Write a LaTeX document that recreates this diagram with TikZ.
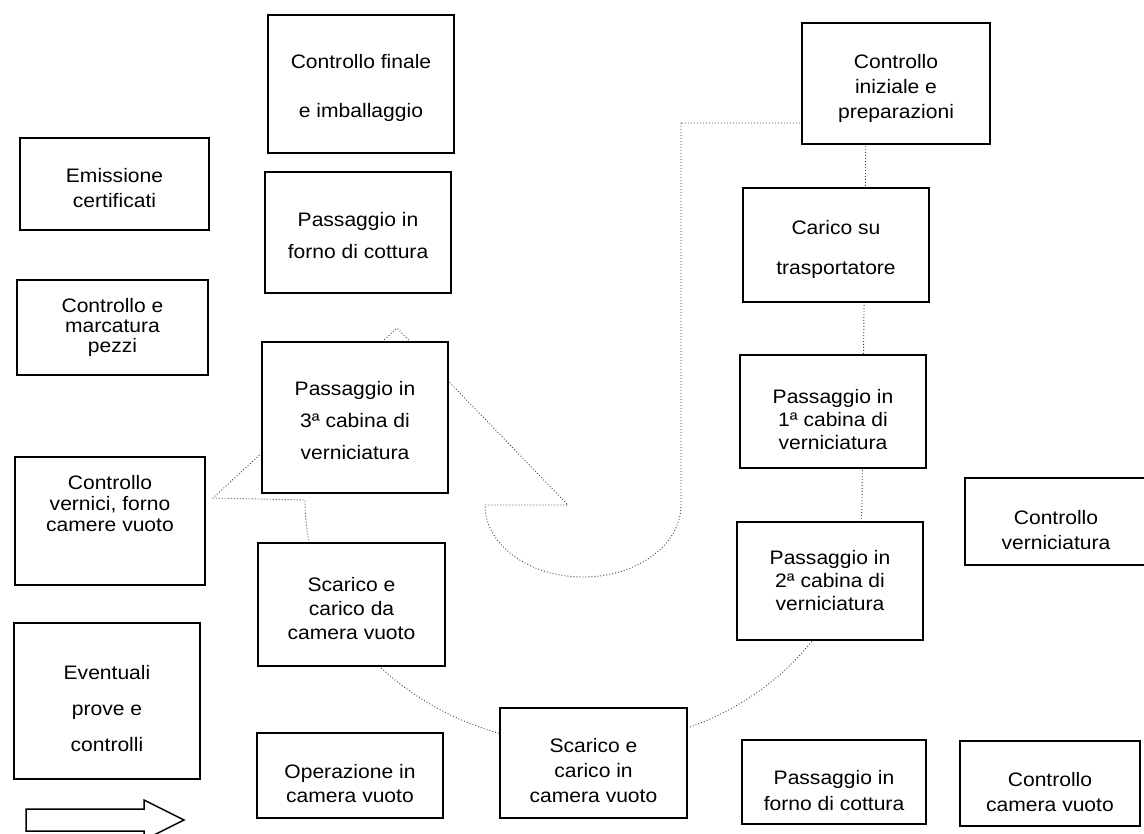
\documentclass[tikz,border=0pt]{standalone}
\usepackage{fontspec}
\setmainfont{Liberation Sans}[FakeStretch=1.08]
\newcommand\fs[1]{\fontsize{19.5}{#1}\selectfont}
\tikzset{
  bx/.style={draw, line width=1.8pt, fill=white, inner sep=0pt},
  txt/.style={align=center, inner sep=0pt},
  dotline/.style={draw=black!75, line width=0.9pt, dash pattern=on 0.9pt off 2.1pt},
}
\begin{document}
\begin{tikzpicture}[x=1pt,y=-1pt]
\clip (0,0) rectangle (1144,834);
\fill[white] (0,0) rectangle (1144,834);
% key points of the dotted circular arrow outline
\coordinate (innerTop) at (681,123);
\coordinate (innerR) at (681,505);
\coordinate (innerL) at (485,505);
\coordinate (barbR) at (568,505);
\coordinate (tip) at (397,328);
\coordinate (barbL) at (213,498);
\coordinate (outerL) at (305,500);
\coordinate (outerB) at (585,745);
\coordinate (outerR) at (862,500);
\coordinate (outerTop) at (866,123);
\draw[dotline] (innerTop) -- (innerR)
  .. controls (681,544.8) and (637.1,577) .. (583,577)
  .. controls (528.9,577) and (485,544.8) .. (innerL)
  -- (barbR) -- (tip) -- (barbL) -- (outerL)
  .. controls (305,635.3) and (430.4,745) .. (outerB)
  .. controls (739.6,745) and (862,635.3) .. (outerR)
  -- (outerTop) -- cycle;
% boxes
\node[bx, minimum width=186pt, minimum height=138pt] (cf) at (361,84) {};
\node[txt, font=\fs{49}] (cfT) at ([yshift=-4pt]cf.center) {Controllo finale\\e imballaggio};
\node[bx, minimum width=189pt, minimum height=92pt] (ec) at (114.5,184) {};
\node[txt, font=\fs{25}] (ecT) at ([yshift=-4pt]ec.center) {Emissione\\certificati};
\node[bx, minimum width=186pt, minimum height=121pt] (pf1) at (358,232.5) {};
\node[txt, font=\fs{32}] (pf1T) at ([yshift=-3pt]pf1.center) {Passaggio in\\forno di cottura};
\node[bx, minimum width=191pt, minimum height=95pt] (cm) at (112.5,327.5) {};
\node[txt, font=\fs{20}] (cmT) at (cm.center) {Controllo e\\marcatura\\pezzi};
\node[bx, minimum width=186pt, minimum height=151pt] (p3) at (355,417.5) {};
\node[txt, font=\fs{32}] (p3T) at ([yshift=-3pt]p3.center) {Passaggio in\\3ª cabina di\\verniciatura};
\node[bx, minimum width=190pt, minimum height=128pt] (cv) at (110,521) {};
\node[txt, font=\fs{21}] (cvT) at ([yshift=17pt]cv.center) {Controllo\\vernici, forno\\camere vuoto};
\node[bx, minimum width=187pt, minimum height=123pt] (sd) at (351.5,604.5) {};
\node[txt, font=\fs{24}] (sdT) at ([yshift=-4pt]sd.center) {Scarico e\\carico da\\camera vuoto};
\node[bx, minimum width=186pt, minimum height=156pt] (ep) at (107,701) {};
\node[txt, font=\fs{36}] (epT) at ([yshift=-8pt]ep.center) {Eventuali\\prove e\\controlli};
\node[bx, minimum width=186pt, minimum height=85pt] (oc) at (350,775.5) {};
\node[txt, font=\fs{24}] (ocT) at ([yshift=-8pt]oc.center) {Operazione in\\camera vuoto};
\node[bx, minimum width=187pt, minimum height=110pt] (si) at (593.5,763) {};
\node[txt, font=\fs{25}] (siT) at ([yshift=-8pt]si.center) {Scarico e\\carico in\\camera vuoto};
\node[bx, minimum width=184pt, minimum height=84pt] (pf2) at (834,782) {};
\node[txt, font=\fs{26}] (pf2T) at ([yshift=-9pt]pf2.center) {Passaggio in\\forno di cottura};
\node[bx, minimum width=180pt, minimum height=85pt] (cc) at (1050,783.5) {};
\node[txt, font=\fs{25}] (ccT) at ([yshift=-9pt]cc.center) {Controllo\\camera vuoto};
\node[bx, minimum width=188pt, minimum height=121pt] (ci) at (896,83.5) {};
\node[txt, font=\fs{25}] (ciT) at ([yshift=-5pt]ci.center) {Controllo\\iniziale e\\preparazioni};
\node[bx, minimum width=186pt, minimum height=114pt] (ct) at (836,245) {};
\node[txt, font=\fs{40}] (ctT) at ([yshift=-4pt]ct.center) {Carico su\\trasportatore};
\node[bx, minimum width=186pt, minimum height=113pt] (p1) at (833,411.5) {};
\node[txt, font=\fs{23}] (p1T) at ([yshift=-8pt]p1.center) {Passaggio in\\1ª cabina di\\verniciatura};
\node[bx, minimum width=186pt, minimum height=118pt] (p2) at (830,581) {};
\node[txt, font=\fs{23}] (p2T) at (p2.center) {Passaggio in\\2ª cabina di\\verniciatura};
\node[bx, minimum width=182pt, minimum height=87pt] (cvr) at (1056,521.5) {};
\node[txt, font=\fs{25}] (cvrT) at ([yshift=-9pt]cvr.center) {Controllo\\verniciatura};
% hollow block arrow
\draw[line width=1.5pt] (26,809) -- (144,809) -- (144,800) -- (184,820) -- (144,840) -- (144,831) -- (26,831) -- cycle;
\end{tikzpicture}
\end{document}
